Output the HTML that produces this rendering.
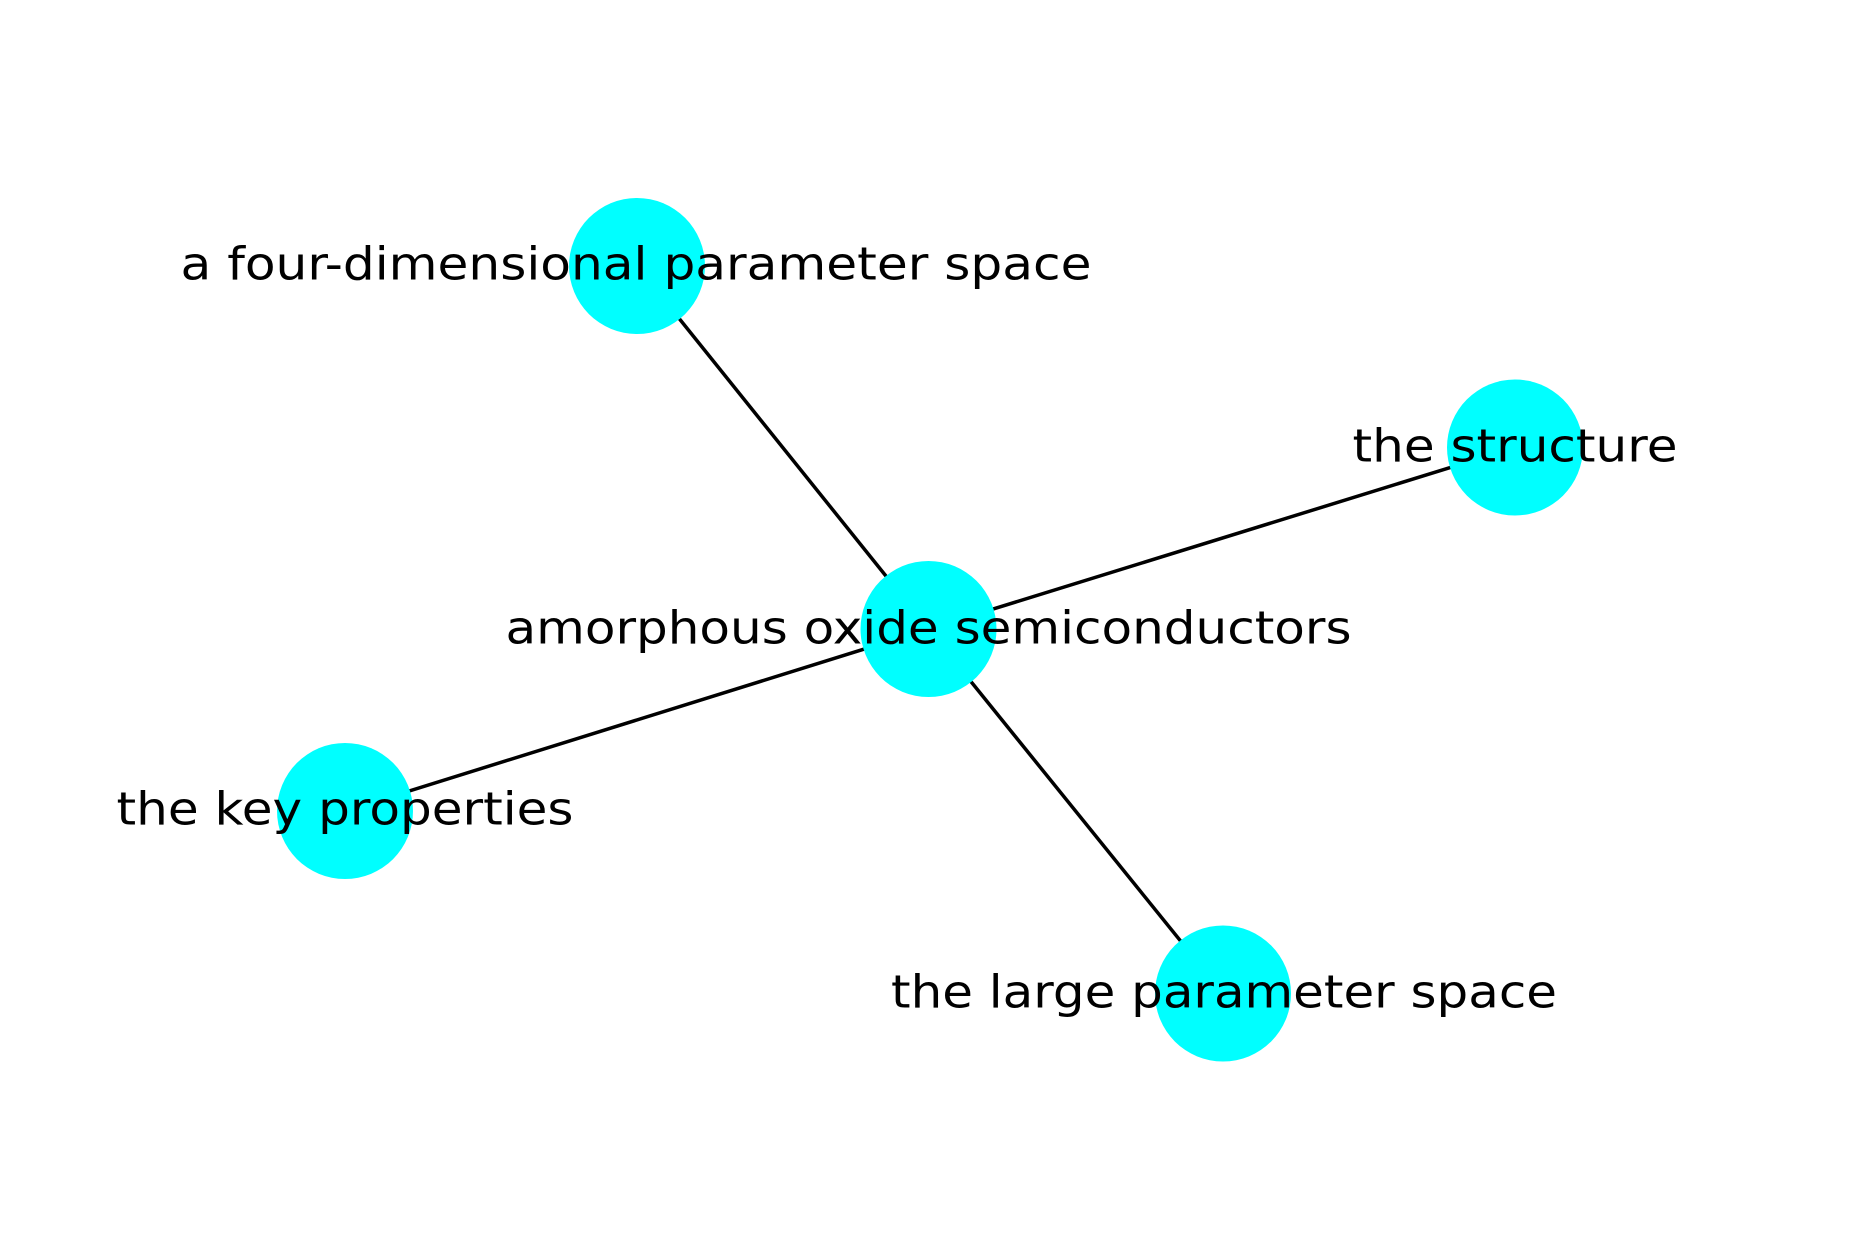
<!DOCTYPE html>
<html><head><meta charset="utf-8"><style>html,body{margin:0;padding:0;background:#fff}</style></head>
<body>
<svg width="1859" height="1259" xmlns="http://www.w3.org/2000/svg" style="display:block">
<rect width="1859" height="1259" fill="#fff"/>
<g stroke="#000" stroke-width="3.5">
<line x1="928.5" y1="629" x2="637" y2="266"/>
<line x1="928.5" y1="629" x2="1515" y2="447.5"/>
<line x1="928.5" y1="629" x2="345" y2="811"/>
<line x1="928.5" y1="629" x2="1223" y2="993.5"/>
</g>
<g fill="#00ffff">
<circle cx="928.5" cy="629" r="68"/>
<circle cx="637" cy="266" r="68"/>
<circle cx="1515" cy="447.5" r="68"/>
<circle cx="345" cy="811" r="68"/>
<circle cx="1223" cy="993.5" r="68"/>
</g>
<g font-family="DejaVu Sans, Liberation Sans, sans-serif" font-size="45" fill="#000" text-anchor="middle" dominant-baseline="central">
<text x="928.5" y="628" textLength="846" lengthAdjust="spacingAndGlyphs">amorphous oxide semiconductors</text>
<text x="636" y="264" textLength="911" lengthAdjust="spacingAndGlyphs">a four-dimensional parameter space</text>
<text x="1515" y="446" textLength="325" lengthAdjust="spacingAndGlyphs">the structure</text>
<text x="345" y="809" textLength="457" lengthAdjust="spacingAndGlyphs">the key properties</text>
<text x="1224" y="992" textLength="666" lengthAdjust="spacingAndGlyphs">the large parameter space</text>
</g>
</svg>
</body></html>
